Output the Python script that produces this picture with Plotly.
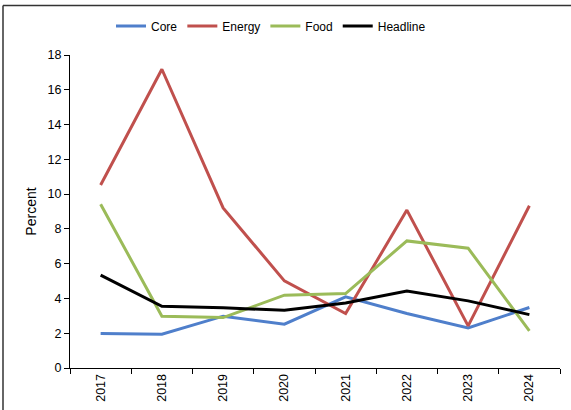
import plotly.graph_objects as go

years = ["2017", "2018", "2019", "2020", "2021", "2022", "2023", "2024"]
core = [1.98, 1.94, 2.98, 2.52, 4.09, 3.13, 2.30, 3.48]
energy = [10.52, 17.18, 9.21, 5.01, 3.13, 9.08, 2.42, 9.33]
food = [9.42, 2.98, 2.90, 4.19, 4.28, 7.31, 6.89, 2.13]
headline = [5.34, 3.55, 3.46, 3.32, 3.74, 4.42, 3.86, 3.07]

series = [("Core", core, "#4F7FCB"), ("Energy", energy, "#C0504D"),
          ("Food", food, "#9BBB59"), ("Headline", headline, "#000000")]

fig = go.Figure()
for name, vals, col in series:
    fig.add_trace(go.Scatter(x=years, y=vals, name=name, mode="lines",
                             line=dict(color=col, width=3)))

W, H = 571, 410
L, R, T, B = 70, 11, 55, 42
pw, ph = W - L - R, H - T - B

fig.update_layout(
    width=W, height=H,
    margin=dict(l=L, r=R, t=T, b=B, autoexpand=False),
    paper_bgcolor="white", plot_bgcolor="white",
    font=dict(family="Liberation Sans, Arial", size=12.5, color="#000"),
    showlegend=True,
    legend=dict(orientation="h", x=(111 - L) / pw, xanchor="left", y=1 + (55 - 26) / ph,
                yanchor="middle", font=dict(size=12), itemwidth=30,
                bgcolor="rgba(0,0,0,0)"),
    xaxis=dict(type="category", range=[-0.5, 7.5], tickson="boundaries", automargin=False,
               ticks="outside", ticklen=5, tickcolor="#000", showline=True,
               linecolor="#000", linewidth=1, showgrid=False, tickangle=-90,
               tickfont=dict(size=12.5)),
    yaxis=dict(range=[0, 18], dtick=2, ticks="outside", ticklen=5, tickcolor="#000",
               showline=True, linecolor="#000", linewidth=1, showgrid=False, automargin=False,
               zeroline=False, title=dict(text="Percent", standoff=7, font=dict(size=14)),
               tickfont=dict(size=12.5)),
    shapes=[dict(type="line", xref="paper", yref="paper",
                 x0=(3 - L) / pw, x1=(W + 30 - L) / pw,
                 y0=1 + (T - 5.5) / ph, y1=1 + (T - 5.5) / ph,
                 line=dict(color="#333", width=1.5)),
            dict(type="line", xref="paper", yref="paper",
                 x0=(3 - L) / pw, x1=(3 - L) / pw,
                 y0=-(B + 30) / ph, y1=1 + (T - 5.5) / ph,
                 line=dict(color="#333", width=1.5))],
)

fig.write_html("out.html", config={"displayModeBar": False},
               post_script="document.body.style.margin='0';")
